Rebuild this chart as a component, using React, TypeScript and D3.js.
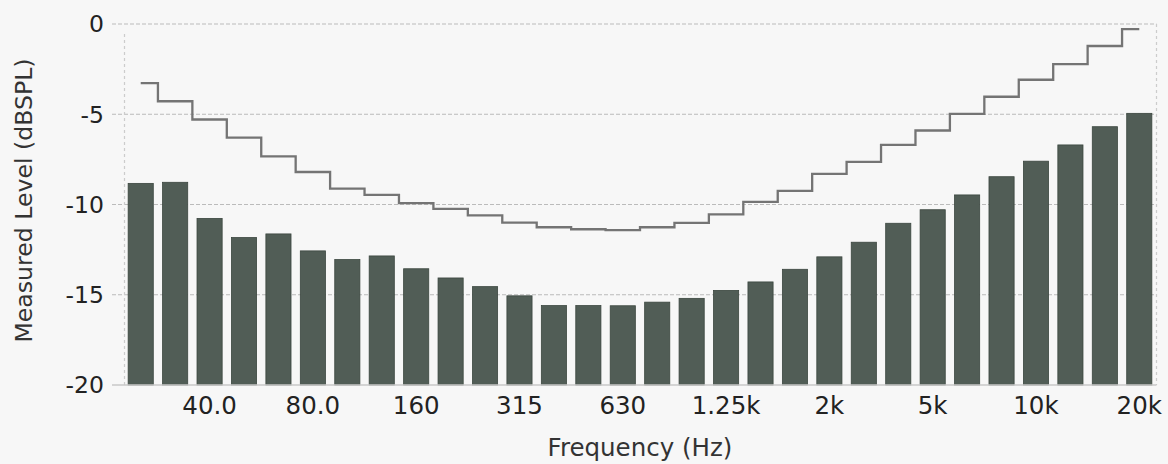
import React from "react";
import * as d3 from "d3";

const frequencies = ["25","31.5","40","50","63","80","100","125","160","200","250","315","400","500","630","800","1k","1.25k","1.6k","2k","2.5k","3.15k","4k","5k","6.3k","8k","10k","12.5k","16k","20k"];
const measured = [-8.83,-8.77,-10.77,-11.83,-11.63,-12.57,-13.05,-12.85,-13.56,-14.07,-14.55,-15.06,-15.6,-15.6,-15.61,-15.41,-15.2,-14.76,-14.29,-13.59,-12.9,-12.09,-11.04,-10.29,-9.47,-8.46,-7.6,-6.7,-5.69,-4.95];
const threshold = [-3.28,-4.28,-5.29,-6.29,-7.33,-8.2,-9.12,-9.47,-9.92,-10.24,-10.6,-11.0,-11.26,-11.37,-11.42,-11.26,-11.02,-10.55,-9.86,-9.24,-8.3,-7.64,-6.7,-5.9,-4.98,-4.03,-3.09,-2.22,-1.22,-0.28];
const xTickIndices = [2,5,8,11,14,17,20,23,26,29];
const xTickLabels = ["40.0","80.0","160","315","630","1.25k","2k","5k","10k","20k"];
const yTicks = [0,-5,-10,-15,-20];

const W = 1168, H = 464;
const left = 123.5, right = 1156.5, top = 24, bottom = 385;
const FONT = "DejaVu Sans, Verdana, sans-serif";

export default function App() {
  const x = d3.scaleBand<string>().domain(frequencies).range([left, right]).paddingInner(0.27).paddingOuter(0.135);
  const y = d3.scaleLinear().domain([-20, 0]).range([bottom, top]);
  const cx = (i: number) => (x(frequencies[i]) as number) + x.bandwidth() / 2;
  const line = d3.line<number>().x((_, i) => cx(i)).y(d => y(d)).curve(d3.curveStep);

  return (
    <svg width={W} height={H} style={{ position: "absolute", left: 0, top: 0, background: "#f7f7f7" }}>
      <rect x={0} y={0} width={W} height={H} fill="#f7f7f7" />
      {yTicks.slice(0, 4).map(t => (
        <line key={"g" + t} x1={112} x2={right} y1={y(t)} y2={y(t)} stroke="#bbbbbb" strokeWidth={1.2} strokeDasharray="4 2" />
      ))}
      <line x1={left + 1} x2={left + 1} y1={y(0) + 10} y2={bottom} stroke="#cccccc" strokeWidth={1.2} strokeDasharray="3 3" />
      <line x1={right} x2={right} y1={y(0)} y2={bottom} stroke="#cccccc" strokeWidth={1.2} strokeDasharray="3 3" />
      {measured.map((v, i) => (
        <rect key={i} x={x(frequencies[i])} y={y(v)} width={x.bandwidth()} height={y(-20) - y(v)} fill="#515d56" stroke="#3b463f" strokeWidth={0.8} />
      ))}
      <line x1={112} x2={right} y1={bottom} y2={bottom} stroke="#c8c8c8" strokeWidth={1.5} />
      <path d={line(threshold) || ""} fill="none" stroke="#747474" strokeWidth={2.3} />
      {yTicks.map(t => (
        <text key={"y" + t} x={104} y={y(t)} dy="0.36em" textAnchor="end" fontFamily={FONT} fontSize={23.5} fill="#222">{t}</text>
      ))}
      {xTickIndices.map((idx, k) => (
        <text key={"x" + idx} x={cx(idx)} y={414} textAnchor="middle" fontFamily={FONT} fontSize={24.5} fill="#222">{xTickLabels[k]}</text>
      ))}
      <text x={640} y={456} textAnchor="middle" fontFamily={FONT} fontSize={24.5} fill="#333">Frequency (Hz)</text>
      <text transform={`translate(32,${(58 + 343) / 2}) rotate(-90)`} textAnchor="middle" fontFamily={FONT} fontSize={23.6} fill="#333">Measured Level (dBSPL)</text>
    </svg>
  );
}
